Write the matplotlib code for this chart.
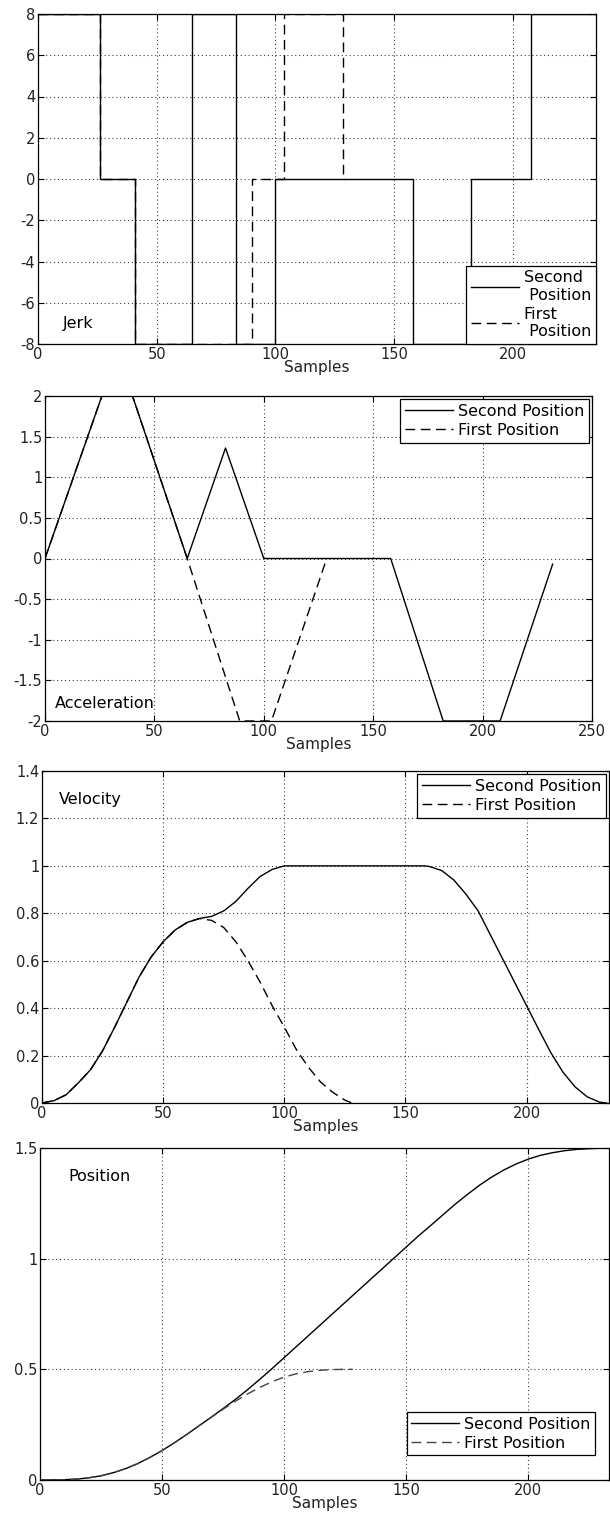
import matplotlib
matplotlib.use("Agg")
import matplotlib.pyplot as plt

plt.rcParams["font.family"] = ["DejaVu Sans"]
plt.rcParams["axes.unicode_minus"] = False

# ---- values (x = sample index) ----
# jerk: step levels, each value holds from its x until the next x
jerk_x_second = [0, 26, 41, 65, 83.5, 100, 158, 182.5, 207.5, 235]
jerk_y_second = [8, 0, -8, 8, -8, 0, -8, 0, 8, 8]
jerk_x_first = [0, 26, 41, 90, 103.5, 128.5, 129]
jerk_y_first = [8, 0, -8, 0, 8, 0, 0]

# acceleration: corner points of the piecewise-linear profiles
acc_x_second = [0, 26, 40, 65, 82.5, 100, 158, 182, 208, 232]
acc_y_second = [0, 2, 2, 0, 1.36, 0, 0, -2, -2, -0.07]
acc_x_first = [0, 26, 40, 65, 89, 103.5, 128]
acc_y_first = [0, 2, 2, 0, -2, -2, -0.06]

# velocity
vel_x_second = [0, 5, 10, 15, 20, 25, 30, 35, 40, 45, 50, 55, 60, 65, 70, 75, 80,
                85, 90, 95, 100, 155, 158, 160, 165, 170, 175, 180, 185, 190, 195,
                200, 205, 210, 215, 220, 225, 230, 233]
vel_y_second = [0, 0.01, 0.035, 0.085, 0.14, 0.22, 0.32, 0.425, 0.53, 0.615, 0.68,
                0.73, 0.762, 0.778, 0.787, 0.81, 0.85, 0.905, 0.955, 0.985, 1.0,
                1.0, 1.0, 0.997, 0.98, 0.94, 0.88, 0.81, 0.71, 0.61, 0.51, 0.41,
                0.31, 0.212, 0.13, 0.068, 0.026, 0.004, 0]
vel_x_first = [0, 5, 10, 15, 20, 25, 30, 35, 40, 45, 50, 55, 60, 65, 70, 75, 80,
               85, 90, 95, 100, 105, 110, 115, 120, 125, 128]
vel_y_first = [0, 0.01, 0.035, 0.085, 0.14, 0.22, 0.32, 0.425, 0.53, 0.615, 0.68,
               0.73, 0.762, 0.778, 0.77, 0.74, 0.68, 0.60, 0.51, 0.41, 0.32, 0.225,
               0.15, 0.088, 0.045, 0.012, 0]

# position
pos_x_second = [0, 5, 10, 15, 20, 25, 30, 35, 40, 45, 50, 55, 60, 65, 70, 75, 80,
                85, 90, 95, 100, 105, 110, 115, 120, 125, 130, 135, 140, 145, 150,
                155, 160, 165, 170, 175, 180, 185, 190, 195, 200, 205, 210, 215,
                220, 225, 230, 233]
pos_y_second = [0, 0.0003, 0.0014, 0.004, 0.010, 0.019, 0.033, 0.051, 0.074, 0.102,
                0.133, 0.168, 0.205, 0.244, 0.283, 0.323, 0.364, 0.408, 0.455, 0.503,
                0.553, 0.603, 0.653, 0.703, 0.753, 0.803, 0.853, 0.903, 0.953, 1.003,
                1.053, 1.103, 1.150, 1.198, 1.246, 1.290, 1.332, 1.369, 1.401, 1.428,
                1.450, 1.467, 1.479, 1.488, 1.494, 1.497, 1.499, 1.5]
pos_x_first = [0, 5, 10, 15, 20, 25, 30, 35, 40, 45, 50, 55, 60, 65, 70, 75, 80,
               85, 90, 95, 100, 105, 110, 115, 120, 125, 128]
pos_y_first = [0, 0.0003, 0.0014, 0.004, 0.010, 0.019, 0.033, 0.051, 0.074, 0.102,
               0.133, 0.168, 0.205, 0.244, 0.282, 0.320, 0.356, 0.389, 0.418, 0.444,
               0.465, 0.480, 0.490, 0.496, 0.499, 0.5, 0.5]

W, H = 610, 1516
DASH = (0, (7, 4))


def px_axes(fig, left, right, top, bottom):
    """axes from pixel box (top-origin)"""
    return fig.add_axes([left / W, 1 - bottom / H, (right - left) / W, (bottom - top) / H])


def style(ax, xlim, ylim, yticks):
    ax.set_xlim(*xlim)
    ax.set_ylim(*ylim)
    ax.set_yticks(yticks)
    ax.set_yticklabels([f"{t:g}" for t in yticks])
    ax.grid(True, color="0.25", linestyle=(0, (1, 2.5)), linewidth=0.8)
    ax.tick_params(direction="in", top=True, right=True, length=4, width=0.8,
                   labelsize=10.5, pad=2, colors="black", labelcolor="#222")
    for s in ax.spines.values():
        s.set_linewidth(0.9)
    ax.set_xlabel("Samples", fontsize=11, labelpad=-1, color="#222")


def legend(ax, labels, **kw):
    lg = ax.legend(labels, fontsize=11.5, fancybox=False, framealpha=1, edgecolor="black",
                   handlelength=3.0, handletextpad=0.3, labelspacing=0.25,
                   borderpad=0.3, **kw)
    lg.get_frame().set_linewidth(0.9)
    return lg


fig = plt.figure(figsize=(W / 100, H / 100), dpi=100)

# Jerk
ax = px_axes(fig, 38, 596, 14, 344)
ax.step(jerk_x_second, jerk_y_second, where="post", color="black", lw=1.0)
ax.step(jerk_x_first, jerk_y_first, where="post", color="black", lw=1.0, linestyle=DASH)
style(ax, (0, 235), (-8, 8), list(range(-8, 9, 2)))
ax.set_xticks([0, 50, 100, 150, 200])
ax.text(10.4, -7.0, "Jerk", fontsize=11.5, va="center")
legend(ax, ["Second\n Position", "First\n Position"], loc="lower right", borderaxespad=0)

# Acceleration
ax = px_axes(fig, 45, 592, 396, 721)
ax.plot(acc_x_second, acc_y_second, color="black", lw=1.0)
ax.plot(acc_x_first, acc_y_first, color="black", lw=1.0, linestyle=DASH)
style(ax, (0, 250), (-2, 2), [-2, -1.5, -1, -0.5, 0, 0.5, 1, 1.5, 2])
ax.set_xticks([0, 50, 100, 150, 200, 250])
ax.text(4.6, -1.78, "Acceleration", fontsize=11.5, va="center")
legend(ax, ["Second Position", "First Position"], loc="upper right", borderaxespad=0.2)

# Velocity
ax = px_axes(fig, 42, 609, 771, 1103)
ax.plot(vel_x_second, vel_y_second, color="black", lw=1.0)
ax.plot(vel_x_first, vel_y_first, color="black", lw=1.0, linestyle=DASH)
style(ax, (0, 234), (0, 1.4), [0, 0.2, 0.4, 0.6, 0.8, 1, 1.2, 1.4])
ax.set_xticks([0, 50, 100, 150, 200])
ax.text(7.1, 1.28, "Velocity", fontsize=11.5, va="center")
legend(ax, ["Second Position", "First Position"], loc="upper right", borderaxespad=0.2)

# Position
ax = px_axes(fig, 40, 609, 1148, 1480)
ax.plot(pos_x_second, pos_y_second, color="black", lw=1.0)
ax.plot(pos_x_first, pos_y_first, color="#444", lw=1.0, linestyle=DASH)
style(ax, (0, 233), (0, 1.5), [0, 0.5, 1, 1.5])
ax.set_xticks([0, 50, 100, 150, 200])
ax.text(11.5, 1.37, "Position", fontsize=11.5, va="center")
legend(ax, ["Second Position", "First Position"], loc="lower right",
       bbox_to_anchor=(0.99, 0.05))

fig.savefig("out.png", dpi=100)
